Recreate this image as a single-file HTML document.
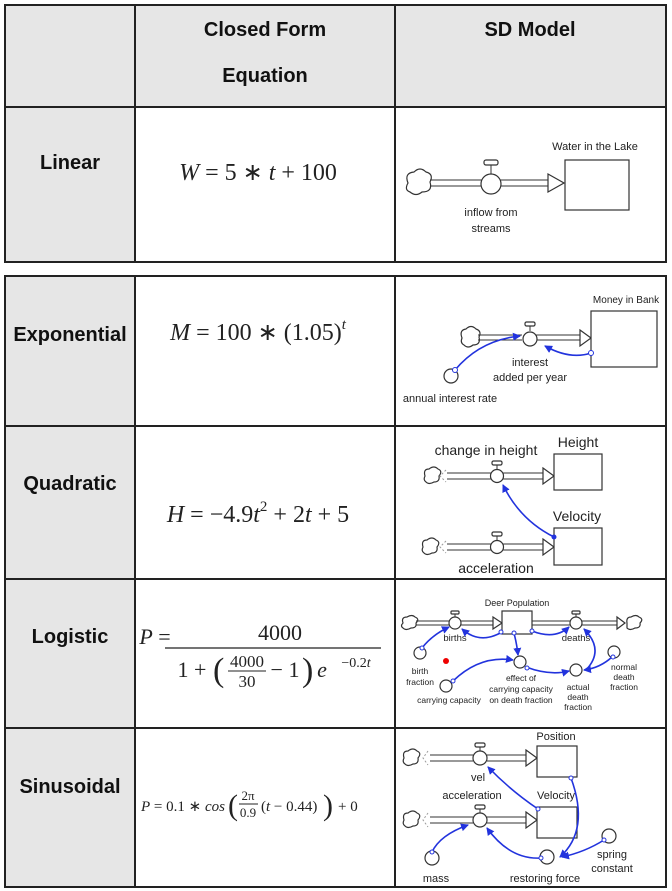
<!DOCTYPE html>
<html><head><meta charset="utf-8"><style>
html,body{margin:0;padding:0;background:#fff;}
svg{display:block;}
.h{font-family:"Liberation Sans",sans-serif;font-weight:bold;font-size:19px;fill:#111;text-anchor:middle;}
.eq{font-family:"Liberation Serif",serif;font-size:24px;fill:#222;text-anchor:middle;}
.eq tspan.i{font-style:italic;}
.s{font-family:"Liberation Sans",sans-serif;font-size:11px;fill:#222;text-anchor:middle;}
.m{font-family:"Liberation Sans",sans-serif;font-size:14px;fill:#222;text-anchor:middle;}
.ln{stroke:#222;stroke-width:2;fill:none;}
.o{stroke:#333;stroke-width:1.2;fill:#fff;}
.b{stroke:#2233dd;stroke-width:1.6;fill:none;}
.bd{fill:#2233dd;}
</style></head><body>
<svg width="672" height="891" viewBox="0 0 672 891" xmlns="http://www.w3.org/2000/svg">
<defs>
<marker id="ar" markerWidth="8" markerHeight="8" refX="7" refY="4" orient="auto" markerUnits="userSpaceOnUse"><path d="M0,0 L8,4 L0,8 Z" fill="#2233dd"/></marker>
</defs>
<!-- table 1 -->
<rect x="5" y="5" width="661" height="102" fill="#e6e6e6"/>
<rect x="5" y="107" width="130" height="155" fill="#e6e6e6"/>
<rect x="5" y="5" width="661" height="257" class="ln"/>
<line x1="135" y1="5" x2="135" y2="262" class="ln"/>
<line x1="395" y1="5" x2="395" y2="262" class="ln"/>
<line x1="5" y1="107" x2="666" y2="107" class="ln"/>
<text class="h" x="265" y="36" style="font-size:20px">Closed Form</text>
<text class="h" x="265" y="82" style="font-size:20px">Equation</text>
<text class="h" x="530" y="36" style="font-size:20px">SD Model</text>
<text class="h" x="70" y="169" style="font-size:20px">Linear</text>
<text class="eq" x="258" y="180"><tspan class="i">W</tspan> = 5 ∗ <tspan class="i">t</tspan> + 100</text>
<!-- table 2 -->
<rect x="5" y="276" width="130" height="611" fill="#e6e6e6"/>
<rect x="5" y="276" width="661" height="611" class="ln"/>
<line x1="135" y1="276" x2="135" y2="887" class="ln"/>
<line x1="395" y1="276" x2="395" y2="887" class="ln"/>
<line x1="5" y1="426" x2="666" y2="426" class="ln"/>
<line x1="5" y1="579" x2="666" y2="579" class="ln"/>
<line x1="5" y1="728" x2="666" y2="728" class="ln"/>
<text class="h" x="70" y="341" style="font-size:20px">Exponential</text>
<text class="h" x="70" y="490" style="font-size:20px">Quadratic</text>
<text class="h" x="70" y="643" style="font-size:20px">Logistic</text>
<text class="h" x="70" y="793" style="font-size:20px">Sinusoidal</text>
<text class="eq" x="258" y="340"><tspan class="i">M</tspan> = 100 ∗ (1.05)<tspan class="i" font-size="15" dy="-11">t</tspan></text>
<text class="eq" x="258" y="522"><tspan class="i">H</tspan> = −4.9<tspan class="i">t</tspan><tspan font-size="15" dy="-11">2</tspan><tspan dy="11"> + 2</tspan><tspan class="i">t</tspan> + 5</text>
<!-- logistic eq -->
<text class="eq" x="155" y="644" style="font-size:22px"><tspan class="i">P</tspan> =</text>
<text class="eq" x="280" y="640" style="font-size:22px">4000</text>
<line x1="165" y1="648" x2="381" y2="648" stroke="#222" stroke-width="1.3"/>
<text class="eq" x="192" y="677" style="font-size:22px">1 +</text>
<text x="213" y="681" style="font-family:'Liberation Serif',serif;font-size:34px;fill:#222">(</text>
<text class="eq" x="247" y="667" style="font-size:17px">4000</text>
<line x1="228" y1="671" x2="266" y2="671" stroke="#222" stroke-width="1"/>
<text class="eq" x="247" y="687" style="font-size:17px">30</text>
<text class="eq" x="285" y="677" style="font-size:22px">− 1</text>
<text x="302" y="681" style="font-family:'Liberation Serif',serif;font-size:34px;fill:#222">)</text>
<text class="eq" x="322" y="677" style="font-size:22px"><tspan class="i">e</tspan></text>
<text class="eq" x="356" y="667" style="font-size:14px">−0.2<tspan class="i">t</tspan></text>
<!-- sinusoidal eq -->
<text x="141" y="811" style="font-family:'Liberation Serif',serif;font-size:15px;fill:#222"><tspan font-style="italic">P</tspan> = 0.1 ∗ <tspan font-style="italic">cos</tspan></text>
<text x="228" y="815" style="font-family:'Liberation Serif',serif;font-size:30px;fill:#222">(</text>
<text class="eq" x="248" y="800" style="font-size:13px">2π</text>
<line x1="239" y1="804" x2="258" y2="804" stroke="#222" stroke-width="1"/>
<text class="eq" x="248" y="817" style="font-size:13px">0.9</text>
<text x="261" y="811" style="font-family:'Liberation Serif',serif;font-size:15px;fill:#222">(<tspan font-style="italic">t</tspan> − 0.44)</text>
<text x="323" y="815" style="font-family:'Liberation Serif',serif;font-size:30px;fill:#222">)</text>
<text x="338" y="811" style="font-family:'Liberation Serif',serif;font-size:15px;fill:#222">+ 0</text>

<!-- Linear diagram -->
<g>
<path d="M408,183 q-4,-10 6,-11 q6,-6 12,0 q8,2 4,10 q3,10 -8,10 q-6,5 -12,0 q-6,-2 -2,-9 z" class="o"/>
<line x1="430" y1="180" x2="482" y2="180" stroke="#333"/><line x1="430" y1="186" x2="482" y2="186" stroke="#333"/>
<line x1="500" y1="180" x2="548" y2="180" stroke="#333"/><line x1="500" y1="186" x2="548" y2="186" stroke="#333"/>
<path d="M548,174 L564,183 L548,192 Z" class="o"/>
<line x1="491" y1="164" x2="491" y2="174" stroke="#333"/><rect x="484" y="160" width="14" height="5" rx="2" class="o"/>
<circle cx="491" cy="184" r="10" class="o"/>
<rect x="565" y="160" width="64" height="50" class="o"/>
<text class="s" x="595" y="150">Water in the Lake</text>
<text class="s" x="491" y="216">inflow from</text>
<text class="s" x="491" y="232">streams</text>
</g>

<!-- Exponential diagram -->
<g>
<path d="M462,338 q-3,-8 4,-9 q5,-5 10,0 q6,2 3,8 q2,8 -6,8 q-5,4 -9,0 q-4,-2 -2,-7 z" class="o"/>
<line x1="478" y1="335" x2="522" y2="335" stroke="#333"/><line x1="478" y1="340" x2="522" y2="340" stroke="#333"/>
<line x1="535" y1="335" x2="580" y2="335" stroke="#333"/><line x1="535" y1="340" x2="580" y2="340" stroke="#333"/>
<path d="M580,330 L591,338 L580,346 Z" class="o"/>
<line x1="530" y1="325" x2="530" y2="331" stroke="#333"/><rect x="525" y="322" width="10" height="4" rx="1.5" class="o"/>
<circle cx="530" cy="339" r="7" class="o"/>
<rect x="591" y="311" width="66" height="56" class="o"/>
<text class="s" x="626" y="303" style="font-size:10px">Money in Bank</text>
<circle cx="451" cy="376" r="7" class="o"/>
<path d="M455,370 Q480,340 520,336" class="b" marker-end="url(#ar)"/>
<circle cx="455" cy="370" r="2.5" fill="#fff" stroke="#2233dd"/>
<path d="M591,373 Q570,380 545,366" class="b" marker-end="url(#ar)" transform="translate(0,-20)"/>
<circle cx="591" cy="353" r="2.5" fill="#fff" stroke="#2233dd"/>
<text class="s" x="530" y="366">interest</text>
<text class="s" x="530" y="381">added per year</text>
<text class="s" x="450" y="402">annual interest rate</text>
</g>

<!-- Quadratic diagram -->
<g>
<path d="M425,476 q-2,-7 4,-7 q5,-4 9,0 q5,2 1,7 q1,6 -5,6 q-5,3 -8,0 q-3,-2 -1,-6 z" class="o"/>
<path d="M446,470 L440,476 L446,482" fill="none" stroke="#999" stroke-dasharray="2,2"/>
<line x1="447" y1="473" x2="491" y2="473" stroke="#333"/><line x1="447" y1="479" x2="491" y2="479" stroke="#333"/>
<line x1="503" y1="473" x2="543" y2="473" stroke="#333"/><line x1="503" y1="479" x2="543" y2="479" stroke="#333"/>
<path d="M543,468 L554,476 L543,484 Z" class="o"/>
<line x1="497" y1="464" x2="497" y2="469" stroke="#333"/><rect x="492" y="461" width="10" height="4" rx="1.5" class="o"/>
<circle cx="497" cy="476" r="6.5" class="o"/>
<rect x="554" y="454" width="48" height="36" class="o"/>
<text class="m" x="486" y="455">change in height</text>
<text class="m" x="578" y="447">Height</text>
<path d="M423,547 q-2,-7 4,-7 q5,-4 9,0 q5,2 1,7 q1,6 -5,6 q-5,3 -8,0 q-3,-2 -1,-6 z" class="o"/>
<path d="M446,541 L440,547 L446,553" fill="none" stroke="#999" stroke-dasharray="2,2"/>
<line x1="447" y1="544" x2="491" y2="544" stroke="#333"/><line x1="447" y1="550" x2="491" y2="550" stroke="#333"/>
<line x1="503" y1="544" x2="543" y2="544" stroke="#333"/><line x1="503" y1="550" x2="543" y2="550" stroke="#333"/>
<path d="M543,539 L554,547 L543,555 Z" class="o"/>
<line x1="497" y1="535" x2="497" y2="540" stroke="#333"/><rect x="492" y="532" width="10" height="4" rx="1.5" class="o"/>
<circle cx="497" cy="547" r="6.5" class="o"/>
<rect x="554" y="528" width="48" height="37" class="o"/>
<text class="m" x="577" y="521">Velocity</text>
<text class="m" x="496" y="573">acceleration</text>
<path d="M554,537 Q520,520 503,485" class="b" marker-end="url(#ar)"/>
<circle cx="554" cy="537" r="2.5" class="bd"/>
</g>

<!-- Logistic diagram -->
<g>
<path d="M403,623 q-2,-6 4,-6 q5,-3 8,0 q5,2 1,6 q1,5 -5,5 q-5,3 -8,0 q-3,-2 0,-5 z" class="o"/>
<line x1="416" y1="621" x2="495" y2="621" stroke="#333"/><line x1="416" y1="625" x2="495" y2="625" stroke="#333"/>
<path d="M493,617 L502,623 L493,629 Z" class="o"/>
<line x1="532" y1="621" x2="617" y2="621" stroke="#333"/><line x1="532" y1="625" x2="617" y2="625" stroke="#333"/>
<path d="M617,617 L625,623 L617,629 Z" class="o"/>
<path d="M627,623 q-1,-6 4,-6 q5,-3 8,0 q5,2 1,6 q1,5 -5,5 q-5,3 -8,0 z" class="o"/>
<line x1="455" y1="613" x2="455" y2="617" stroke="#333"/><rect x="451" y="611" width="8" height="3" rx="1" class="o"/>
<circle cx="455" cy="623" r="6" class="o"/>
<line x1="576" y1="613" x2="576" y2="617" stroke="#333"/><rect x="572" y="611" width="8" height="3" rx="1" class="o"/>
<circle cx="576" cy="623" r="6" class="o"/>
<rect x="502" y="611" width="30" height="23" class="o"/>
<text class="s" x="517" y="606" style="font-size:9px">Deer Population</text>
<text class="s" x="455" y="641" style="font-size:9.5px">births</text>
<text class="s" x="576" y="641" style="font-size:9.5px">deaths</text>
<circle cx="420" cy="653" r="6" class="o"/>
<circle cx="446" cy="686" r="6" class="o"/>
<circle cx="520" cy="662" r="6" class="o"/>
<circle cx="576" cy="670" r="6" class="o"/>
<circle cx="614" cy="652" r="6" class="o"/>
<text class="s" x="420" y="674" style="font-size:8.5px">birth</text>
<text class="s" x="420" y="685" style="font-size:8.5px">fraction</text>
<text class="s" x="449" y="703" style="font-size:8.5px">carrying capacity</text>
<text class="s" x="521" y="681" style="font-size:8.5px">effect of</text>
<text class="s" x="521" y="692" style="font-size:8.5px">carrying capacity</text>
<text class="s" x="521" y="703" style="font-size:8.5px">on death fraction</text>
<text class="s" x="578" y="690" style="font-size:8.5px">actual</text>
<text class="s" x="578" y="700" style="font-size:8.5px">death</text>
<text class="s" x="578" y="710" style="font-size:8.5px">fraction</text>
<text class="s" x="624" y="670" style="font-size:8.5px">normal</text>
<text class="s" x="624" y="680" style="font-size:8.5px">death</text>
<text class="s" x="624" y="690" style="font-size:8.5px">fraction</text>
<g class="b">
<path d="M422,648 Q432,635 449,627" marker-end="url(#ar)"/>
<path d="M502,632 Q480,645 462,629" marker-end="url(#ar)"/>
<path d="M514,633 Q517,645 518,655" marker-end="url(#ar)"/>
<path d="M532,631 Q555,640 569,627" marker-end="url(#ar)"/>
<path d="M453,681 Q480,655 513,660" marker-end="url(#ar)"/>
<path d="M526,667 Q550,676 569,671" marker-end="url(#ar)"/>
<path d="M586,670 Q605,650 584,629" marker-end="url(#ar)"/>
<path d="M612,657 Q600,668 584,670" marker-end="url(#ar)"/>
</g>
<g fill="#fff" stroke="#2233dd">
<circle cx="422" cy="648" r="2"/><circle cx="501" cy="632" r="2"/><circle cx="514" cy="633" r="2"/><circle cx="532" cy="631" r="2"/><circle cx="453" cy="681" r="2"/><circle cx="527" cy="668" r="2"/><circle cx="613" cy="657" r="2"/></g>
<circle cx="446" cy="661" r="3" fill="#e00"/>
</g>

<!-- Sinusoidal diagram -->
<g>
<path d="M404,758 q-2,-7 4,-7 q5,-4 9,0 q5,2 1,7 q1,6 -5,6 q-5,3 -8,0 q-3,-2 -1,-6 z" class="o"/>
<path d="M428,751 L423,758 L428,765" fill="none" stroke="#999" stroke-dasharray="2,2"/>
<line x1="430" y1="755" x2="473" y2="755" stroke="#333"/><line x1="430" y1="761" x2="473" y2="761" stroke="#333"/>
<line x1="487" y1="755" x2="526" y2="755" stroke="#333"/><line x1="487" y1="761" x2="526" y2="761" stroke="#333"/>
<path d="M526,750 L537,758 L526,766 Z" class="o"/>
<line x1="480" y1="746" x2="480" y2="751" stroke="#333"/><rect x="475" y="743" width="10" height="4" rx="1.5" class="o"/>
<circle cx="480" cy="758" r="7" class="o"/>
<rect x="537" y="746" width="40" height="31" class="o"/>
<text class="s" x="556" y="740">Position</text>
<text class="s" x="478" y="781">vel</text>
<text class="s" x="472" y="799">acceleration</text>
<text class="s" x="556" y="799">Velocity</text>
<path d="M404,820 q-2,-7 4,-7 q5,-4 9,0 q5,2 1,7 q1,6 -5,6 q-5,3 -8,0 q-3,-2 -1,-6 z" class="o"/>
<path d="M428,813 L423,820 L428,827" fill="none" stroke="#999" stroke-dasharray="2,2"/>
<line x1="430" y1="817" x2="473" y2="817" stroke="#333"/><line x1="430" y1="823" x2="473" y2="823" stroke="#333"/>
<line x1="487" y1="817" x2="526" y2="817" stroke="#333"/><line x1="487" y1="823" x2="526" y2="823" stroke="#333"/>
<path d="M526,812 L537,820 L526,828 Z" class="o"/>
<line x1="480" y1="808" x2="480" y2="813" stroke="#333"/><rect x="475" y="805" width="10" height="4" rx="1.5" class="o"/>
<circle cx="480" cy="820" r="7" class="o"/>
<rect x="537" y="807" width="40" height="31" class="o"/>
<circle cx="432" cy="858" r="7" class="o"/>
<circle cx="547" cy="857" r="7" class="o"/>
<circle cx="609" cy="836" r="7" class="o"/>
<text class="s" x="436" y="882">mass</text>
<text class="s" x="545" y="882">restoring force</text>
<text class="s" x="612" y="858">spring</text>
<text class="s" x="612" y="872">constant</text>
<g class="b">
<path d="M538,809 Q510,790 488,767" marker-end="url(#ar)"/>
<path d="M571,778 Q590,830 560,857" marker-end="url(#ar)"/>
<path d="M604,840 Q585,852 562,857" marker-end="url(#ar)"/>
<path d="M541,858 Q510,860 487,828" marker-end="url(#ar)"/>
<path d="M432,852 Q440,835 468,825" marker-end="url(#ar)"/>
</g>
<g fill="#fff" stroke="#2233dd">
<circle cx="538" cy="809" r="2"/><circle cx="571" cy="778" r="2"/><circle cx="604" cy="840" r="2"/><circle cx="541" cy="858" r="2"/><circle cx="432" cy="852" r="2"/></g>
</g>
</svg>
</body></html>
